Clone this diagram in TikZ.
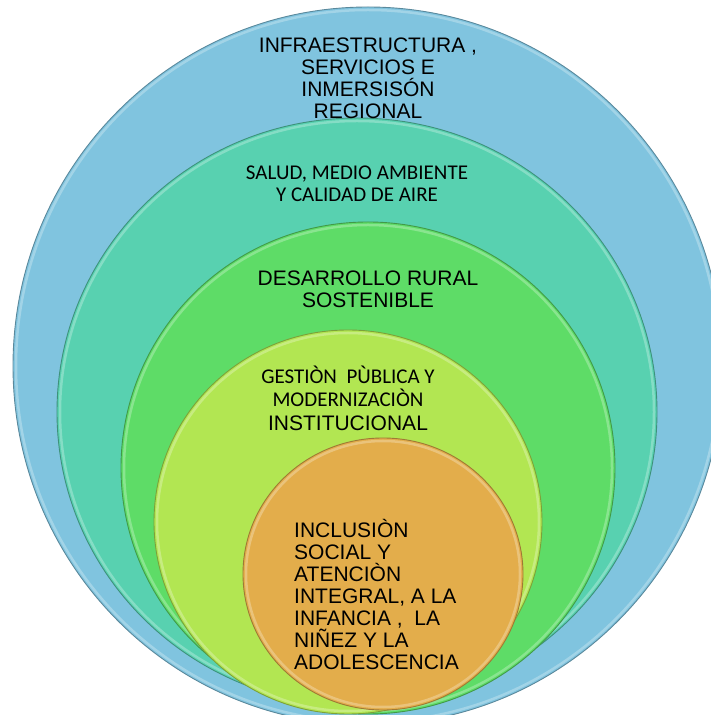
\documentclass[tikz,border=0pt]{standalone}
\usepackage{fontspec}
\setmainfont{Liberation Sans}
\newfontfamily\narrowfont{Carlito}
\usetikzlibrary{shapes.geometric,positioning}
\definecolor{ringblue}{RGB}{128,196,223}
\definecolor{ringteal}{RGB}{88,209,176}
\definecolor{ringgreen}{RGB}{94,220,103}
\definecolor{ringlime}{RGB}{178,230,82}
\definecolor{ringorange}{RGB}{227,173,75}
\begin{document}
\begin{tikzpicture}[x=1pt,y=1pt]
\tikzstyle{ring}=[ellipse,inner sep=0,line width=0.9pt]
\tikzstyle{ring text}=[inner sep=0,align=center,font=\fontsize{21}{22}\selectfont]
\tikzset{
	rim/.style={draw=#1!55!white,line width=2.5pt,opacity=0.6},
	infra ring/.style={ring,fill=ringblue,draw=ringblue!70!black,minimum width=710pt,minimum height=718pt},
	salud ring/.style={ring,fill=ringteal,draw=ringteal!70!black,minimum width=600pt,minimum height=588pt},
	rural ring/.style={ring,fill=ringgreen,draw=ringgreen!70!black,minimum width=494pt,minimum height=492pt},
	gestion ring/.style={ring,fill=ringlime,draw=ringlime!70!black,minimum width=388pt,minimum height=384pt},
	inclusion ring/.style={ring,fill=ringorange,draw=ringorange!70!black,minimum width=280pt,minimum height=272pt}
}
\useasboundingbox (0,0) rectangle (710,715);
% nested rings, outer first, each with a light rim
\node[infra ring] (infra) at (368,349) {};
\draw[rim=ringblue] (infra.center) ellipse [x radius=352pt,y radius=356pt];
\node[salud ring] (salud) at (357,303) {};
\draw[rim=ringteal] (salud.center) ellipse [x radius=297pt,y radius=291pt];
\node[rural ring] (rural) at (368,247) {};
\draw[rim=ringgreen] (rural.center) ellipse [x radius=244pt,y radius=243pt];
\node[gestion ring] (gestion) at (348,193) {};
\draw[rim=ringlime] (gestion.center) ellipse [x radius=191pt,y radius=189pt];
\node[inclusion ring] (inclusion) at (383,141) {};
\draw[rim=ringorange] (inclusion.center) ellipse [x radius=137pt,y radius=133pt];
% labels
\node[ring text,below=31.3pt of infra.north] (infra text)
	{INFRAESTRUCTURA ,\\ SERVICIOS E\\ INMERSISÓN\\ REGIONAL};
\node[ring text,below=48.5pt of salud.north,font=\narrowfont\fontsize{21}{22}\selectfont] (salud text)
	{SALUD, MEDIO AMBIENTE\\ Y CALIDAD DE AIRE};
\node[ring text,below=49.3pt of rural.north] (rural text)
	{DESARROLLO RURAL\\ SOSTENIBLE};
\node[ring text,below=36.2pt of gestion.north,font=\fontsize{21}{23.5}\selectfont] (gestion text)
	{\narrowfont GESTIÒN\ \ PÙBLICA Y\\ \narrowfont MODERNIZACIÒN\\ \rmfamily INSTITUCIONAL};
\node[ring text,align=left,below=81.5pt of inclusion.north,xshift=-6.5pt] (inclusion text)
	{INCLUSIÒN\\ SOCIAL Y\\ ATENCIÒN\\ INTEGRAL, A LA\\ INFANCIA ,\ \ LA\\ NIÑEZ Y LA\\ ADOLESCENCIA};
\end{tikzpicture}
\end{document}
